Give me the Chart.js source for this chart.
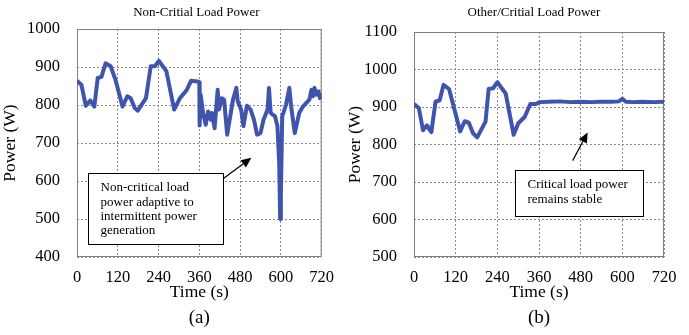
<!DOCTYPE html>
<html lang="en">
<head>
    <meta charset="UTF-8">
    <title>Load Power</title>
    <script src="https://cdn.jsdelivr.net/npm/chart.js"></script>
    <style>
        body {
            margin: 0;
            background: #fff;
            width: 689px;
            height: 335px;
            position: relative;
            overflow: hidden;
        }
        .panel {
            position: absolute;
            top: 0;
        }
    </style>
</head>
<body>
    <div class="panel" style="left:0"><canvas id="chartA" width="345" height="335"></canvas></div>
    <div class="panel" style="left:345px"><canvas id="chartB" width="344" height="335"></canvas></div>

    <script>
        // (a) non-critical load power
        const ncTime = [0, 13, 26, 39, 51, 61, 72, 84, 99, 113, 134, 148, 158, 170, 179, 203, 217, 229, 241, 263, 286, 303, 322, 336, 355, 360, 361, 364, 371, 379, 386, 394, 397, 405, 414, 418, 426, 433, 442, 451, 459, 469, 473, 483, 490, 500, 511, 521, 530, 540, 549, 561, 565, 570, 583, 590, 595, 598, 600, 604, 615, 625, 630, 641, 654, 665, 684, 690, 694, 699, 704, 711, 715, 720];
        const ncPower = [864, 853, 798, 812, 796, 871, 874, 910, 902, 867, 796, 823, 818, 792, 785, 818, 902, 902, 916, 889, 788, 818, 838, 864, 862, 860, 746, 827, 779, 748, 783, 761, 779, 739, 840, 788, 818, 814, 722, 770, 814, 845, 810, 788, 744, 798, 788, 761, 722, 726, 761, 788, 845, 779, 770, 744, 650, 500, 560, 770, 800, 845, 798, 726, 779, 796, 814, 840, 823, 845, 827, 836, 818, 827];

        // (b) other / critical load power
        const ocTime = [0, 14, 26, 37, 50, 62, 74, 85, 101, 114, 133, 146, 158, 170, 182, 206, 215, 228, 240, 264, 287, 300, 319, 335, 351, 362, 390, 420, 450, 480, 510, 540, 570, 590, 600, 610, 630, 660, 690, 720];
        const ocPower = [908, 897, 838, 851, 833, 914, 918, 959, 948, 902, 835, 862, 858, 830, 819, 861, 948, 950, 966, 936, 826, 856, 874, 908, 908, 913, 914, 915, 913, 914, 913, 914, 914, 915, 922, 914, 913, 914, 913, 914];

        const timeTicks = [0, 120, 240, 360, 480, 600, 720];

        const serif = 'Liberation Serif';
        const lineColor = '#3f55ad';

        // annotation boxes are in data units (time, power)
        const noteA = {
            box: [31, 430, 622, 435],
            lines: ['Non-critical load', 'power adaptive to', 'intermittent power', 'generation'],
            arrow: [430, 606, 513, 661]
        };
        const noteB = {
            box: [292, 660, 731, 610],
            lines: ['Critical load power', 'remains stable'],
            arrow: [457, 757, 500, 832]
        };

        const extras = {
            id: 'extras',
            beforeDatasetsDraw(chart, args, opts) {
                const a = chart.chartArea;
                const ctx = chart.ctx;
                ctx.save();
                ctx.strokeStyle = '#808080';
                ctx.lineWidth = 1;
                ctx.strokeRect(a.left + 0.5, a.top + 0.5, a.right - a.left - 1, a.bottom - a.top - 1);
                ctx.restore();
            },
            afterDraw(chart, args, opts) {
                const ctx = chart.ctx;
                const a = chart.chartArea;
                const xs = chart.scales.x, ys = chart.scales.y;
                const cx = (a.left + a.right) / 2;
                ctx.save();
                ctx.fillStyle = '#000';
                ctx.textAlign = 'center';
                ctx.textBaseline = 'middle';
                ctx.font = '13px "' + serif + '"';
                ctx.fillText(opts.title, cx + opts.titleShift, 13);
                ctx.font = '19px "' + serif + '"';
                ctx.fillText(opts.label, cx, 318);

                const n = opts.note;
                const bx0 = Math.round(xs.getPixelForValue(n.box[0])) + 0.5;
                const bx1 = Math.round(xs.getPixelForValue(n.box[1])) + 0.5;
                const by0 = Math.round(ys.getPixelForValue(n.box[2])) + 0.5;
                const by1 = Math.round(ys.getPixelForValue(n.box[3])) + 0.5;
                ctx.fillStyle = '#fff';
                ctx.fillRect(bx0, by0, bx1 - bx0, by1 - by0);
                ctx.strokeStyle = '#000';
                ctx.lineWidth = 1;
                ctx.strokeRect(bx0, by0, bx1 - bx0, by1 - by0);
                ctx.fillStyle = '#000';
                ctx.textAlign = 'left';
                ctx.font = '13px "' + serif + '"';
                n.lines.forEach((t, i) => ctx.fillText(t, bx0 + 12, by0 + 14.5 + i * 14.3));

                // arrow
                const x1 = xs.getPixelForValue(n.arrow[0]), y1 = ys.getPixelForValue(n.arrow[1]);
                const x2 = xs.getPixelForValue(n.arrow[2]), y2 = ys.getPixelForValue(n.arrow[3]);
                const ang = Math.atan2(y2 - y1, x2 - x1);
                const hl = 10, hw = 4.5;
                ctx.beginPath();
                ctx.moveTo(x1, y1);
                ctx.lineTo(x2 - hl * Math.cos(ang), y2 - hl * Math.sin(ang));
                ctx.lineWidth = 1.2;
                ctx.stroke();
                ctx.beginPath();
                ctx.moveTo(x2, y2);
                ctx.lineTo(x2 - hl * Math.cos(ang) + hw * Math.sin(ang), y2 - hl * Math.sin(ang) - hw * Math.cos(ang));
                ctx.lineTo(x2 - hl * Math.cos(ang) - hw * Math.sin(ang), y2 - hl * Math.sin(ang) + hw * Math.cos(ang));
                ctx.closePath();
                ctx.fill();
                ctx.restore();
            }
        };

        function makeChart(id, times, values, yMin, yMax, yWidth, padRight, extraOpts) {
            const points = times.map((t, i) => ({ x: t, y: values[i] }));
            return new Chart(document.getElementById(id), {
                type: 'line',
                data: {
                    datasets: [{
                        data: points,
                        borderColor: lineColor,
                        borderWidth: 4,
                        pointRadius: 0,
                        tension: 0,
                        borderJoinStyle: 'round',
                        fill: false
                    }]
                },
                options: {
                    responsive: false,
                    animation: false,
                    layout: { padding: { top: extraOpts.top, right: padRight, bottom: 30, left: 0 } },
                    plugins: {
                        legend: { display: false },
                        tooltip: { enabled: false },
                        extras: extraOpts
                    },
                    scales: {
                        x: {
                            type: 'linear',
                            min: 0,
                            max: 720,
                            afterBuildTicks: (axis) => { axis.ticks = timeTicks.map(v => ({ value: v })); },
                            afterFit: (axis) => { axis.height = 48; },
                            ticks: { padding: 11, color: '#000', font: { family: serif, size: 16.5 }, maxRotation: 0, callback: v => String(v) },
                            grid: { color: '#8a8a8a', drawTicks: false, lineWidth: 1 },
                            border: { display: false, dash: [2, 2] },
                            title: { display: true, text: 'Time (s)', color: '#000', font: { family: serif, size: 17.5 }, padding: { top: 0, bottom: 2 } }
                        },
                        y: {
                            min: yMin,
                            max: yMax,
                            afterFit: (axis) => { axis.width = yWidth; },
                            ticks: { stepSize: 100, padding: 17, color: '#000', font: { family: serif, size: 16.5 }, callback: v => String(v) },
                            grid: { color: '#8a8a8a', drawTicks: false, lineWidth: 1 },
                            border: { display: false, dash: [2, 2] },
                            title: { display: true, text: 'Power (W)', color: '#000', font: { family: serif, size: 17.5 }, padding: { top: 0, bottom: 0 } }
                        }
                    }
                },
                plugins: [extras]
            });
        }

        makeChart('chartA', ncTime, ncPower, 400, 1000, 77, 15,
            { title: 'Non-Critial Load Power', label: '(a)', note: noteA, titleShift: -3, top: 29 });
        makeChart('chartB', ocTime, ocPower, 500, 1100, 69, 25,
            { title: 'Other/Critial Load Power', label: '(b)', note: noteB, titleShift: -5, top: 32 });
    </script>
</body>
</html>
